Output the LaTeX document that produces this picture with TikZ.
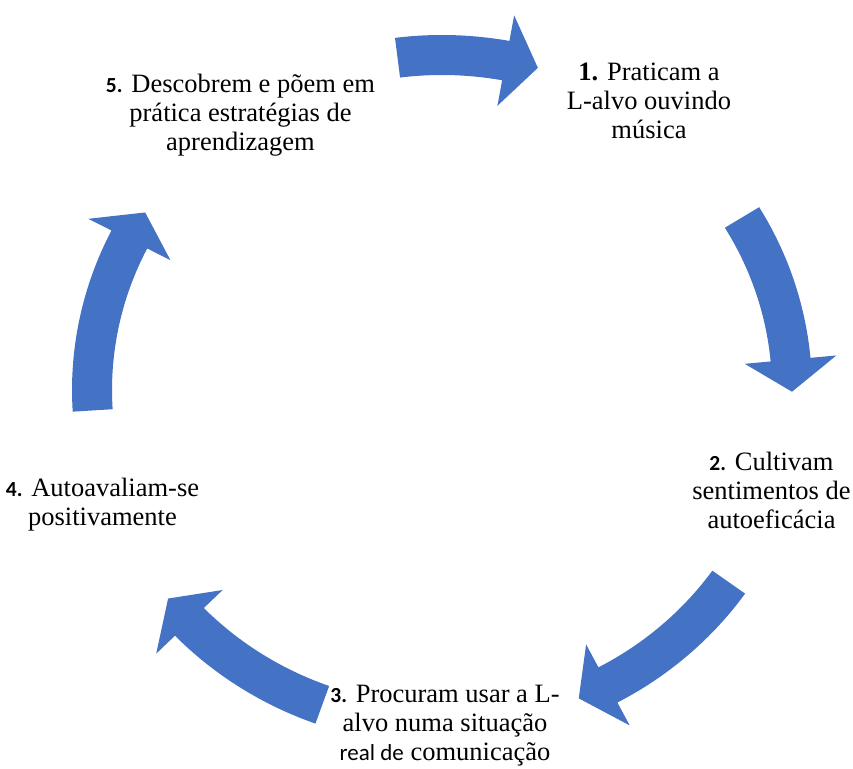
\documentclass[tikz,border=0pt]{standalone}
\usepackage{fontspec}
\setmainfont{Liberation Serif}
\newfontfamily\numfont{Carlito}
\usetikzlibrary{positioning}
\definecolor{Accent}{RGB}{68,114,196}
\newcommand{\stepnum}[1]{{\numfont\bfseries\fontsize{21.5}{29}\selectfont #1.}}
% tail angle, head base angle, tip angle
\newcommand{\cyclearrow}[3]{%
  \fill[blockarrow] (#1:370 and 355) arc[start angle=#1,end angle=#2,x radius=370,y radius=355]
    -- (#2:396 and 381) -- (#3:350 and 335) -- (#2:304 and 289) -- (#2:330 and 315)
    arc[start angle=#2,end angle=#1,x radius=330,y radius=315] -- cycle;}
\tikzset{
  steptext/.style={align=center,inner sep=0pt,font=\fontsize{26.5}{29}\selectfont},
  blockarrow/.style={fill=Accent,draw=none}
}
\begin{document}
\begin{tikzpicture}[x=1pt,y=1pt]
\useasboundingbox (0,0) rectangle (853,768);
\coordinate (c) at (442,378);

\begin{scope}[shift={(c)}]
\cyclearrow{97.3}{79.5}{74.1}
\cyclearrow{31}{5.2}{-0.3}
\cyclearrow{-35}{-61.7}{-67}
\cyclearrow{-110}{-136.2}{-141.5}
\cyclearrow{183.5}{153.3}{148}
\end{scope}

\node[steptext] (praticam) at (649,667) {\textbf{1.} Praticam a\\L-alvo ouvindo\\música};
\node[steptext] (cultivam) at (771.5,278) {\stepnum{2} Cultivam\\sentimentos de\\autoeficácia};
\node[steptext] (procuram) at (445,42) {\stepnum{3} Procuram usar a L-\\alvo numa situação\\{\numfont\fontsize{23}{29}\selectfont real de} comunicação};
\node[steptext] (autoavaliam) at (102.5,263) {\stepnum{4} Autoavaliam-se\\positivamente};
\node[steptext] (descobrem) at (240.5,653) {\stepnum{5} Descobrem e põem em\\prática estratégias de\\aprendizagem};
\end{tikzpicture}
\end{document}
